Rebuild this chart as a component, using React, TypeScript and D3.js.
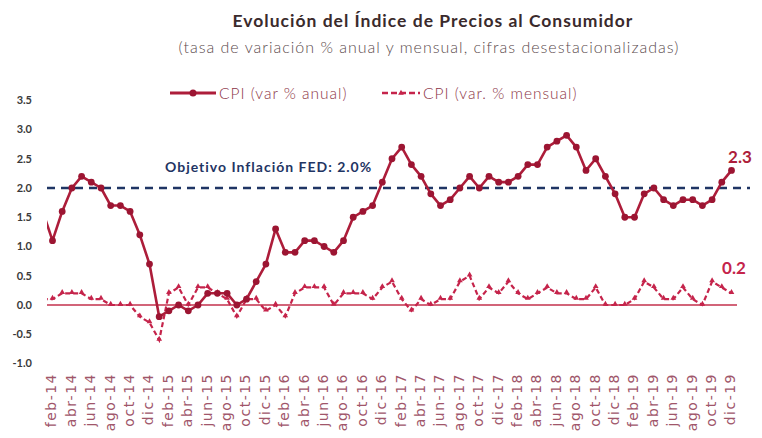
import React from "react";
import * as d3 from "d3";

const years = ["14", "15", "16", "17", "18", "19"];
const monthNames = ["ene", "feb", "mar", "abr", "may", "jun", "jul", "ago", "sep", "oct", "nov", "dic"];
const months: string[] = years.flatMap((y) => monthNames.map((m) => `${m}-${y}`));

// CPI annual % change (ene-14 .. dic-19)
const anual = [
  1.6, 1.1, 1.6, 2.0, 2.2, 2.1, 2.0, 1.7, 1.7, 1.6, 1.2, 0.7,
  -0.2, -0.1, 0.0, -0.1, 0.0, 0.2, 0.2, 0.2, 0.0, 0.1, 0.4, 0.7,
  1.3, 0.9, 0.9, 1.1, 1.1, 1.0, 0.9, 1.1, 1.5, 1.6, 1.7, 2.1,
  2.5, 2.7, 2.4, 2.2, 1.9, 1.7, 1.8, 2.0, 2.2, 2.0, 2.2, 2.1,
  2.1, 2.2, 2.4, 2.4, 2.7, 2.8, 2.9, 2.7, 2.3, 2.5, 2.2, 1.9,
  1.5, 1.5, 1.9, 2.0, 1.8, 1.7, 1.8, 1.8, 1.7, 1.8, 2.1, 2.3,
];
// CPI monthly % change (ene-14 .. dic-19)
const mensual = [
  0.1, 0.1, 0.2, 0.2, 0.2, 0.1, 0.1, 0.0, 0.0, 0.0, -0.2, -0.3,
  -0.6, 0.2, 0.3, 0.0, 0.3, 0.3, 0.2, 0.1, -0.2, 0.1, 0.1, -0.1,
  0.0, -0.2, 0.2, 0.3, 0.3, 0.3, 0.0, 0.2, 0.2, 0.2, 0.1, 0.3,
  0.4, 0.1, -0.1, 0.1, 0.0, 0.1, 0.1, 0.4, 0.5, 0.1, 0.3, 0.2,
  0.4, 0.2, 0.1, 0.2, 0.3, 0.2, 0.2, 0.1, 0.1, 0.3, 0.0, 0.0,
  0.0, 0.1, 0.4, 0.3, 0.1, 0.1, 0.3, 0.1, 0.0, 0.4, 0.3, 0.2,
];
const yTicks = [3.5, 3.0, 2.5, 2.0, 1.5, 1.0, 0.5, 0.0, -0.5, -1.0];
const tickLabels = months.filter((_, i) => i % 2 === 1);
const fedTarget = 2.0;
const title = "Evolución del Índice de Precios al Consumidor";
const subtitle = "(tasa de variación % anual y mensual, cifras desestacionalizadas)";
const legendLabels = ["CPI (var % anual)", "CPI (var. % mensual)"];
const fedLabel = "Objetivo Inflación FED: 2.0%";

const W = 762;
const H = 438;
const RED = "#ad1d3a";
const RED_DOT = "#9c1532";
const PINK = "#c5244b";
const NAVY = "#1f3564";
const FONT = "Lato, 'Open Sans', sans-serif";

export default function App() {
  const x = d3.scalePoint<string>().domain(months).range([42.8, 731.5]);
  const y = d3.scaleLinear().domain([-1, 3.5]).range([363.5, 100.25]);
  const clipX0 = 47;

  const lineA = d3
    .line<number>()
    .x((_, i) => x(months[i])!)
    .y((d) => y(d));
  const pathA = lineA(anual) || "";
  const pathM = lineA(mensual) || "";
  const tri = d3.symbol().type(d3.symbolTriangle).size(14)() || "";

  const last = months.length - 1;

  return (
    <svg
      width={W}
      height={H}
      style={{ position: "absolute", left: 0, top: 0, background: "#fff" }}
      fontFamily={FONT}
    >
      <defs>
        <clipPath id="plotclip">
          <rect x={clipX0} y={60} width={W - clipX0} height={320} />
        </clipPath>
      </defs>

      <text x={433} y={27} textAnchor="middle" fontSize={17.5} letterSpacing={1} fontWeight={700} fill="#3a2a2c">
        {title}
      </text>
      <text x={429} y={53} textAnchor="middle" fontSize={16} letterSpacing={1} fontWeight={300} fill="#5b4b4d">
        {subtitle}
      </text>

      {/* legend */}
      <g>
        <line x1={170} x2={216} y1={93} y2={93} stroke={RED} strokeWidth={3} />
        <circle cx={193} cy={93} r={3.5} fill={RED_DOT} />
        <text x={219} y={99} fontSize={15.5} letterSpacing={1} fontWeight={300} fill="#8c3445">
          {legendLabels[0]}
        </text>
        <line x1={382} x2={420} y1={93} y2={93} stroke={PINK} strokeWidth={2.5} strokeDasharray="6,3" />
        <path d={tri} transform="translate(401,93)" fill={PINK} />
        <text x={423} y={99} fontSize={15.5} letterSpacing={1} fontWeight={300} fill="#8c3445">
          {legendLabels[1]}
        </text>
      </g>

      {/* y axis labels */}
      {yTicks.map((t) => (
        <text
          key={t}
          x={32}
          y={y(t)}
          dy="0.35em"
          textAnchor="end"
          fontSize={11}
          fontWeight={700}
          fill="#3a3a3a"
        >
          {t.toFixed(1)}
        </text>
      ))}

      {/* x axis labels */}
      {tickLabels.map((m) => (
        <text
          key={m}
          transform={`translate(${x(m)! - 1},373) rotate(-90)`}
          dy="0.35em"
          textAnchor="end"
          fontSize={14}
          letterSpacing={1.5}
          fontFamily="'DejaVu Sans', sans-serif"
          fill="#a0566a"
        >
          {m}
        </text>
      ))}

      {/* zero line */}
      <line x1={clipX0} x2={737} y1={y(0)} y2={y(0)} stroke="#c3304c" strokeWidth={1.5} />

      {/* FED target */}
      <line
        x1={clipX0}
        x2={750}
        y1={y(fedTarget)}
        y2={y(fedTarget)}
        stroke={NAVY}
        strokeWidth={2.5}
        strokeDasharray="8,6"
      />
      <text x={165} y={172} fontSize={14} letterSpacing={1} fontWeight={700} fill={NAVY}>
        {fedLabel}
      </text>

      <g clipPath="url(#plotclip)">
        <path d={pathM} fill="none" stroke={PINK} strokeWidth={2.2} strokeDasharray="5,3" />
        {mensual.map((v, i) => (
          <path key={i} d={tri} transform={`translate(${x(months[i])},${y(v) - 1})`} fill={PINK} />
        ))}
        <path d={pathA} fill="none" stroke={RED} strokeWidth={2.6} strokeLinejoin="round" />
        {anual.map((v, i) => (
          <circle key={i} cx={x(months[i])} cy={y(v)} r={3.4} fill={RED_DOT} />
        ))}
      </g>

      <text x={740} y={163} textAnchor="middle" fontSize={17} fontWeight={700} fill={RED}>
        {anual[last].toFixed(1)}
      </text>
      <text x={734} y={274} textAnchor="middle" fontSize={17} fontWeight={700} fill={PINK}>
        {mensual[last].toFixed(1)}
      </text>
    </svg>
  );
}
